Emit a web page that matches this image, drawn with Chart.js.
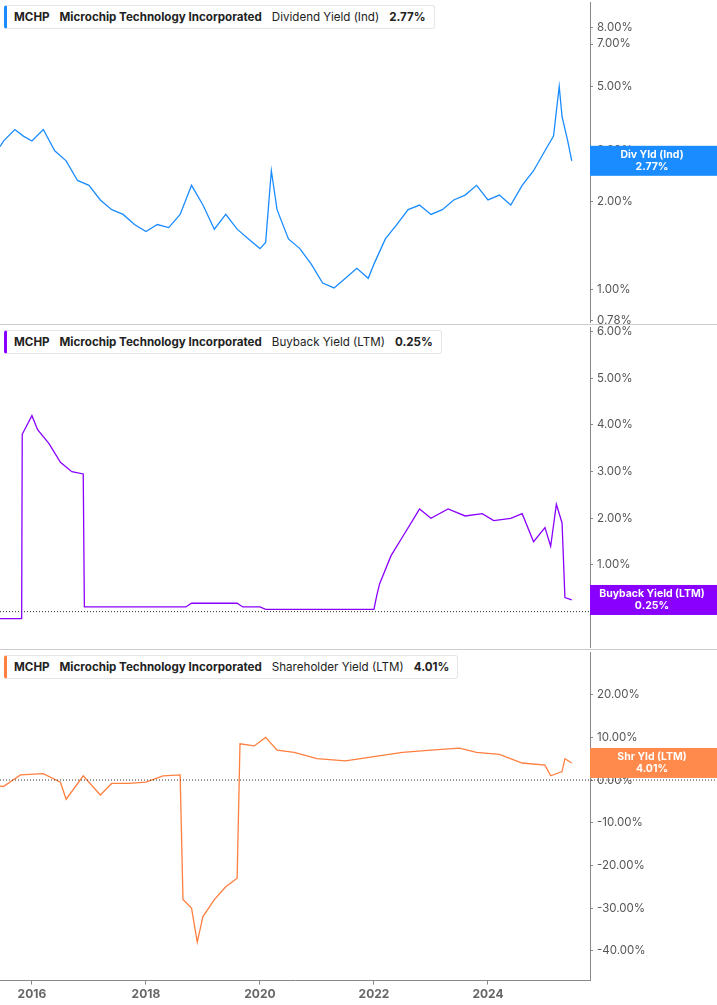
<!DOCTYPE html>
<html>
<head>
<meta charset="utf-8">
<script src="https://cdn.jsdelivr.net/npm/chart.js@4"></script>
<style>
  body { margin: 0; background: #fff; font-family: Inter, sans-serif; overflow: hidden; }
  .panel { position: absolute; left: 0; width: 717px; }
  .sep { position: absolute; left: 0; width: 717px; height: 1px; background: #ccc; }
  .legend { position: absolute; left: 4px; background: #fff; border: 1px solid #e6e6e6; border-left: 3px solid; border-radius: 3px;
            padding: 4px 8px 4px 7px; font-size: 11.6px; color: #222; white-space: nowrap; z-index: 2; }
  .legend b { font-weight: 700; margin-right: 10px; }
  .legend span { margin-right: 10px; }
</style>
</head>
<body>
<div class="panel" style="top:-8px;height:341px"><canvas id="divChart"></canvas></div>
<div class="panel" style="top:317px;height:341px"><canvas id="buyChart"></canvas></div>
<div class="panel" style="top:642px;height:363px"><canvas id="shrChart"></canvas></div>
<div class="sep" style="top:324px"></div>
<div class="sep" style="top:649px"></div>
<div class="legend" style="top:5px;border-left-color:#1a8cff"><b>MCHP</b><b>Microchip Technology Incorporated</b><span>Dividend Yield (Ind)</span><b style="margin:0">2.77%</b></div>
<div class="legend" style="top:330px;border-left-color:#8a00ff"><b>MCHP</b><b>Microchip Technology Incorporated</b><span>Buyback Yield (LTM)</span><b style="margin:0">0.25%</b></div>
<div class="legend" style="top:655px;border-left-color:#ff7f3f"><b>MCHP</b><b>Microchip Technology Incorporated</b><span>Shareholder Yield (LTM)</span><b style="margin:0">4.01%</b></div>
<script>
const X_MIN = 2015.44, X_MAX = 2025.79;
const yearTicks = [2016, 2018, 2020, 2022, 2024];

const divDates = [2015.44, 2015.5, 2015.7, 2015.85, 2016.0, 2016.2, 2016.4, 2016.6, 2016.8, 2017.0, 2017.2, 2017.4, 2017.6, 2017.8,
  2018.0, 2018.2, 2018.4, 2018.6, 2018.8, 2019.0, 2019.2, 2019.4, 2019.6, 2019.8, 2020.0, 2020.1, 2020.2, 2020.3, 2020.5,
  2020.7, 2020.9, 2021.1, 2021.3, 2021.5, 2021.7, 2021.9, 2022.0, 2022.2, 2022.4, 2022.6, 2022.8, 2023.0, 2023.2, 2023.4,
  2023.6, 2023.8, 2024.0, 2024.2, 2024.4, 2024.6, 2024.8, 2025.0, 2025.15, 2025.25, 2025.3, 2025.4, 2025.47];
const divYield = [3.1, 3.24, 3.55, 3.37, 3.24, 3.55, 3.0, 2.77, 2.37, 2.28, 2.03, 1.88, 1.81, 1.67,
  1.58, 1.67, 1.63, 1.81, 2.28, 1.95, 1.61, 1.81, 1.61, 1.49, 1.38, 1.45, 2.56, 1.88, 1.49,
  1.38, 1.22, 1.05, 1.01, 1.09, 1.18, 1.09, 1.22, 1.49, 1.67, 1.88, 1.95, 1.81, 1.88, 2.03,
  2.11, 2.28, 2.03, 2.11, 1.95, 2.28, 2.56, 3.0, 3.37, 5.0, 3.93, 3.24, 2.77];

const buyDates = [2015.44, 2015.82, 2015.83, 2016.0, 2016.1, 2016.3, 2016.5, 2016.7, 2016.9, 2016.92, 2018.7, 2018.8, 2019.6,
  2019.7, 2020.0, 2020.1, 2022.0, 2022.05, 2022.1, 2022.3, 2022.5, 2022.7, 2022.8, 2023.0, 2023.3, 2023.6, 2023.9, 2024.1,
  2024.4, 2024.6, 2024.8, 2025.0, 2025.1, 2025.2, 2025.3, 2025.35, 2025.47];
const buyYield = [-0.15, -0.15, 3.8, 4.2, 3.9, 3.6, 3.2, 3.0, 2.95, 0.1, 0.1, 0.18, 0.18,
  0.1, 0.1, 0.05, 0.05, 0.35, 0.6, 1.2, 1.6, 2.0, 2.2, 2.0, 2.2, 2.05, 2.1, 1.95,
  2.0, 2.1, 1.5, 1.8, 1.4, 2.3, 1.9, 0.3, 0.25];

const shrDates = [2015.44, 2015.5, 2015.8, 2016.2, 2016.5, 2016.6, 2016.9, 2017.2, 2017.4, 2017.7, 2018.0, 2018.3, 2018.6,
  2018.65, 2018.8, 2018.9, 2019.0, 2019.2, 2019.4, 2019.6, 2019.65, 2019.9, 2020.1, 2020.3, 2020.6, 2021.0, 2021.5, 2022.0,
  2022.5, 2023.0, 2023.5, 2023.8, 2024.2, 2024.6, 2025.0, 2025.1, 2025.3, 2025.35, 2025.47];
const shrYield = [-1.4, -1.5, 1.2, 1.5, -0.5, -4.5, 1.0, -3.5, -0.8, -0.8, -0.5, 1.0, 1.2,
  -28, -30, -38, -32, -28, -25, -23, 8.5, 8, 10, 7, 6.5, 5, 4.5, 5.5,
  6.5, 7, 7.5, 6.5, 6, 4, 3.5, 1, 2, 5, 4.01];

const divTicks = [0.78, 1, 2, 3, 5, 7, 8];
const buyTicks = [0, 1, 2, 3, 4, 5, 6];
const shrTicks = [-40, -30, -20, -10, 0, 10, 20];

const toXY = (xs, ys) => xs.map((x, i) => ({ x: x, y: ys[i] }));

function badgePlugin(color, lines, showZero) {
  return {
    id: 'badge',
    afterDatasetsDraw(chart) {
      const ctx = chart.ctx, area = chart.chartArea, y = chart.scales.y;
      if (showZero) {
        const zy = y.getPixelForValue(0);
        ctx.save();
        ctx.strokeStyle = '#333'; ctx.lineWidth = 1; ctx.setLineDash([1, 2]);
        ctx.beginPath(); ctx.moveTo(area.left, zy); ctx.lineTo(area.right + 127, zy); ctx.stroke();
        ctx.restore();
      }
      const data = chart.data.datasets[0].data;
      const cy = y.getPixelForValue(data[data.length - 1].y);
      ctx.save();
      ctx.fillStyle = color;
      ctx.fillRect(area.right, cy - 15, 127, 30);
      ctx.fillStyle = '#fff'; ctx.font = 'bold 10.5px Inter'; ctx.textAlign = 'center'; ctx.textBaseline = 'middle';
      ctx.fillText(lines[0], area.right + 62, cy - 6);
      ctx.fillText(lines[1], area.right + 62, cy + 6);
      ctx.restore();
    }
  };
}

function makeChart(id, xs, ys, color, yOpts, ticks, showX, badge) {
  return new Chart(document.getElementById(id), {
    type: 'line',
    data: { datasets: [{ data: toXY(xs, ys), borderColor: color, borderWidth: 1.3, pointRadius: 0, tension: 0 }] },
    options: {
      responsive: true, maintainAspectRatio: false, animation: false,
      layout: { padding: 0 },
      plugins: { legend: { display: false }, tooltip: { enabled: false } },
      scales: {
        x: {
          type: 'linear', min: X_MIN, max: X_MAX, display: showX,
          afterBuildTicks: s => { s.ticks = yearTicks.map(v => ({ value: v })); },
          ticks: { color: '#666', font: { family: 'Inter', size: 12, weight: 700 }, callback: v => String(v), maxRotation: 0 },
          grid: { drawOnChartArea: false, tickLength: 4, color: '#888' },
          border: { color: '#888' }
        },
        y: Object.assign({
          position: 'right',
          afterFit: s => { s.width = 127; },
          afterBuildTicks: s => { s.ticks = ticks.map(v => ({ value: v })); },
          ticks: { color: '#555', font: { family: 'Inter', size: 11.5 }, padding: 4, callback: v => v.toFixed(2) + '%' },
          grid: { drawOnChartArea: false, tickLength: 3, color: '#888' },
          border: { color: '#888' }
        }, yOpts)
      }
    },
    plugins: [badge]
  });
}

makeChart('divChart', divDates, divYield, '#1a8cff', { type: 'logarithmic', min: 0.77, max: 9.7 }, divTicks, false,
  badgePlugin('#1a8cff', ['Div Yld (Ind)', '2.77%'], false));
makeChart('buyChart', buyDates, buyYield, '#8a00ff', { type: 'linear', min: -0.76, max: 6.08 }, buyTicks, false,
  badgePlugin('#8a00ff', ['Buyback Yield (LTM)', '0.25%'], true));
makeChart('shrChart', shrDates, shrYield, '#ff7f3f', { type: 'linear', min: -47, max: 29.8 }, shrTicks, true,
  badgePlugin('#ff8a4c', ['Shr Yld (LTM)', '4.01%'], true));
</script>
</body>
</html>
